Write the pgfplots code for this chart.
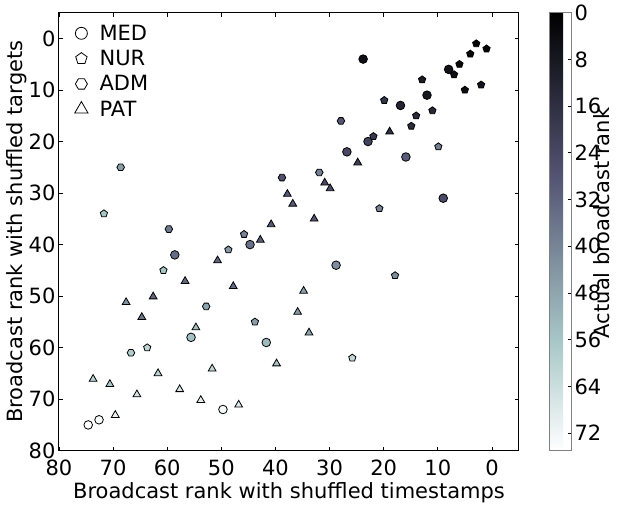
\documentclass[border=0pt]{standalone}
\usepackage{fontspec}
\setmainfont{DejaVu Sans}
\usepackage{pgfplots}
\pgfplotsset{compat=1.18}
\usetikzlibrary{plotmarks}

\pgfdeclareplotmark{hexagon*}{%
  \pgfpathmoveto{\pgfqpointpolar{0}{\pgfplotmarksize}}%
  \pgfpathlineto{\pgfqpointpolar{60}{\pgfplotmarksize}}%
  \pgfpathlineto{\pgfqpointpolar{120}{\pgfplotmarksize}}%
  \pgfpathlineto{\pgfqpointpolar{180}{\pgfplotmarksize}}%
  \pgfpathlineto{\pgfqpointpolar{240}{\pgfplotmarksize}}%
  \pgfpathlineto{\pgfqpointpolar{300}{\pgfplotmarksize}}%
  \pgfpathclose
  \pgfusepathqfillstroke
}

\pgfplotsset{mylegimg/.style={legend image code/.code={\path (-10pt,0pt) (16pt,0pt); \draw[##1] plot coordinates {(0pt,0pt)};}}}

\newcommand\fs{\fontsize{21}{25}\selectfont}

\pgfplotstableread{
x y r
23.8 4 5
8 6 6
12 11 8
16.9 13 12
26.8 22 24
22.9 20 22
15.9 23 30
9 31 25
58.6 42 34
55.6 58 55
49.7 72 73
72.6 74 74
74.6 75 75
44.7 40 35
41.7 59 53
28.8 44 42
}\med

\pgfplotstableread{
x y r
71.7 34 56
2.9 1 0
1 2 1
4 3 2
6 5 3
7 7 5
5 10 4
2 9 7
12.9 8 9
11 14 13
14 15 14
14.9 17 15
19.9 12 18
21.9 19 19
9.9 21 38
20.8 33 40
60.7 45 56
63.7 60 61
48.7 41 45
45.8 38 40
43.8 55 46
17.9 46 42
25.8 62 62
}\nur

\pgfplotstableread{
x y r
68.6 25 46
59.7 37 37
38.8 27 27
27.9 16 28
31.9 26 39
52.8 52 47
66.7 61 58
}\adm

\pgfplotstableread{
x y r
37.8 30.2 29
36.8 32.1 30
40.8 36.1 29
18.9 18.1 16
24.8 24.1 21
30.9 28 24
29.9 29.1 25
32.85 35 28
56.7 47.1 33
67.6 51.2 43
62.6 50.1 33
64.7 54.1 36
54.7 56.1 54
73.7 66.1 60
70.6 67.1 57
65.6 69.1 66
61.7 65 60
57.7 68.1 67
53.8 70.2 69
51.7 64.1 62
46.8 71.1 68
69.6 73.1 71
50.7 43.1 32
42.8 39.1 30
47.8 48.1 34
39.8 63.1 55
35.9 53.1 45
34.8 49 46
33.8 57.1 47
}\pat

\begin{document}
\begin{tikzpicture}
\begin{axis}[
  scale only axis, width=460pt, height=438pt,
  x dir=reverse, y dir=reverse,
  xmin=-5, xmax=80, ymin=-5, ymax=80,
  xtick={0,10,...,80}, ytick={0,10,...,80},
  tick align=inside, major tick length=4pt,
  tick style={black, line width=0.8pt},
  axis line style={black, line width=1pt},
  tick label style={font=\fs, /pgf/number format/assume math mode=true},
  xticklabel style={yshift=-6pt},
  label style={font=\fs},
  ylabel shift=-5pt,
  xlabel={Broadcast rank with shuffled timestamps},
  ylabel={Broadcast rank with shuffled targets},
  colormap={bone}{rgb=(0,0,0) rgb=(0.1094,0.1094,0.1522) rgb=(0.2188,0.2188,0.3044) rgb=(0.3281,0.3314,0.4531) rgb=(0.4375,0.4818,0.5625) rgb=(0.5469,0.6322,0.6719) rgb=(0.6582,0.7813,0.7813) rgb=(0.8291,0.8906,0.8906) rgb=(1,1,1)},
  point meta min=0, point meta max=75,
  colorbar,
  colorbar shift/.style={},
  colorbar style={
    width=22pt,
    at={(parent axis.north east)}, anchor=north west, xshift=30pt,
    y dir=reverse,
    ytick={0,8,...,72},
    ytick pos=right,
    tick align=inside,
    major tick length=3pt,
    ylabel={Actual broadcast rank},
    ylabel style={font=\fs, at={(axis description cs:2.4,0.52)}, anchor=center},
    yticklabel style={font=\fs, /pgf/number format/assume math mode=true},
    axis line style={gray, line width=1pt},
  },
  legend style={at={(0,1)}, anchor=north west, xshift=10pt, yshift=-8pt, draw=none, fill=none, font=\fs, row sep=4.5pt, inner sep=2pt},
  legend cell align=left,
  scatter/use mapped color={draw=black, fill=mapped color},
]
\addlegendimage{only marks, mark=*, mark size=6pt, mark options={fill=white, draw=black, line width=0.8pt}, mylegimg}
\addlegendentry{MED}
\addlegendimage{only marks, mark=pentagon*, mark size=6pt, mark options={fill=white, draw=black, line width=0.8pt}, mylegimg}
\addlegendentry{NUR}
\addlegendimage{only marks, mark=hexagon*, mark size=6pt, mark options={fill=white, draw=black, line width=0.8pt}, mylegimg}
\addlegendentry{ADM}
\addlegendimage{only marks, mark=triangle*, mark size=7.7pt, mark options={fill=white, draw=black, line width=0.8pt}, mylegimg}
\addlegendentry{PAT}

\addplot[scatter, only marks, mark=*, mark size=4.3pt, mark options={line width=0.8pt}, forget plot, point meta=explicit] table[x=x, y=y, meta=r] {\med};
\addplot[scatter, only marks, mark=pentagon*, mark size=3.8pt, mark options={line width=0.8pt}, forget plot, point meta=explicit] table[x=x, y=y, meta=r] {\nur};
\addplot[scatter, only marks, mark=hexagon*, mark size=3.8pt, mark options={line width=0.8pt}, forget plot, point meta=explicit] table[x=x, y=y, meta=r] {\adm};
\addplot[scatter, only marks, mark=triangle*, mark size=4.5pt, mark options={line width=0.8pt}, forget plot, point meta=explicit] table[x=x, y=y, meta=r] {\pat};
\end{axis}
\pgfresetboundingbox
\useasboundingbox (-59pt,-53.3pt) rectangle (562pt,450.7pt);
\end{tikzpicture}
\end{document}
